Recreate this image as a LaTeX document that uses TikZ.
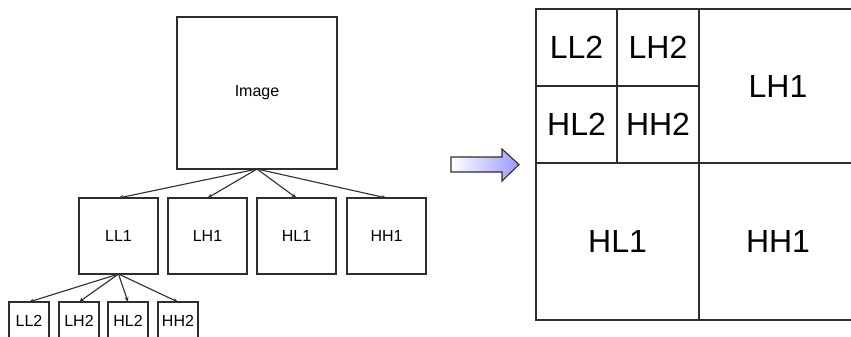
\documentclass[tikz,border=0pt]{standalone}
\usepackage{fontspec}
\setmainfont{Liberation Sans}
\usetikzlibrary{arrows.meta,positioning}
\definecolor{edge}{HTML}{2E2E2E}
\definecolor{arrowblue}{HTML}{9A9AFF}
\tikzset{
  box/.style={draw=edge, line width=1.4pt, inner sep=0pt, outer sep=0pt,
    font=\fontsize{16}{16}\selectfont, anchor=north west},
  cell/.style={draw=edge, line width=1.2pt, inner sep=0pt, outer sep=0pt,
    font=\fontsize{32}{32}\selectfont, anchor=north west},
  link/.style={draw=edge, line width=1.1pt, -{Stealth[length=5pt,width=4pt]}},
}
\begin{document}
\begin{tikzpicture}[x=1pt,y=-1pt]
\useasboundingbox (0,0) rectangle (851,337);
\clip (0,0) rectangle (851,337);
\fill[white] (0,0) rectangle (851,337);

% decomposition tree
\node[box, minimum width=160pt, minimum height=152pt] (img) at (177,17) {Image};

\node[box, minimum width=79pt, minimum height=76pt] (ll1) at (79,198) {LL1};
\node[box, minimum width=79pt, minimum height=76pt] (lh1) at (168,198) {LH1};
\node[box, minimum width=79pt, minimum height=76pt] (hl1) at (257,198) {HL1};
\node[box, minimum width=79pt, minimum height=76pt] (hh1) at (347,198) {HH1};

\node[box, minimum width=40pt, minimum height=37pt] (ll2) at (9,302) {LL2};
\node[box, minimum width=40pt, minimum height=37pt] (lh2) at (59,302) {LH2};
\node[box, minimum width=40pt, minimum height=37pt] (hl2) at (108,302) {HL2};
\node[box, minimum width=40pt, minimum height=37pt] (hh2) at (158,302) {HH2};

\coordinate (imgb) at (img.south);
\coordinate (ll1b) at (ll1.south);
\foreach \t in {ll1,lh1,hl1,hh1}
  \draw[link] (imgb) -- (\t.north);
\foreach \t in {ll2,lh2,hl2,hh2}
  \draw[link] (ll1b) -- (\t.north);

% block arrow
\shade[left color=white, right color=arrowblue, draw=edge, line width=1.1pt, line join=miter]
  (451,157) -- (502,157) -- (502,149) -- (519,164.5) -- (502,181) -- (502,172) -- (451,172) -- cycle;

% subband layout
\node[cell, minimum width=81pt, minimum height=77pt] (cll2) at (536,9) {LL2};
\node[cell, minimum width=82pt, minimum height=77pt] (clh2) at (617,9) {LH2};
\node[cell, minimum width=81pt, minimum height=77pt] (chl2) at (536,86) {HL2};
\node[cell, minimum width=82pt, minimum height=77pt] (chh2) at (617,86) {HH2};
\node[cell, minimum width=158pt, minimum height=154pt] (clh1) at (699,9) {LH1};
\node[cell, minimum width=163pt, minimum height=157pt] (chl1) at (536,163) {HL1};
\node[cell, minimum width=158pt, minimum height=157pt] (chh1) at (699,163) {HH1};
\end{tikzpicture}
\end{document}
